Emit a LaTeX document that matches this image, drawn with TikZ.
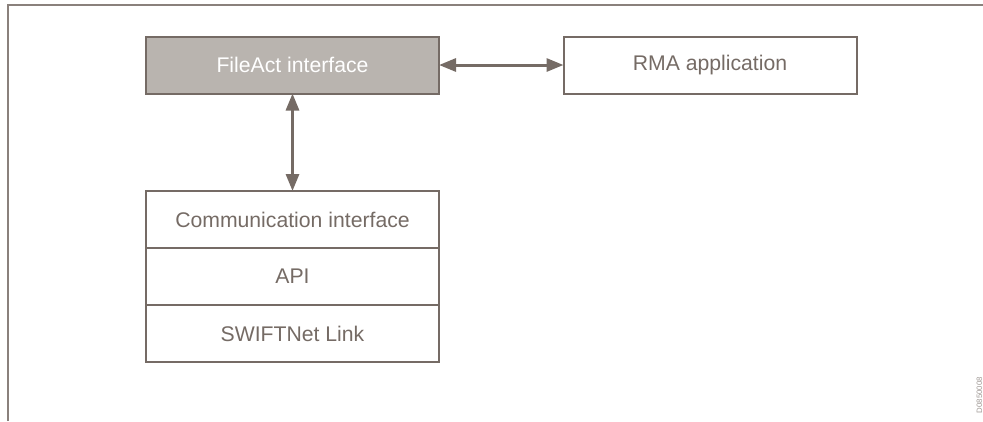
\documentclass[tikz,border=0pt]{standalone}
\usepackage{fontspec}
\setmainfont{Liberation Sans}
\usetikzlibrary{arrows.meta,positioning}
\definecolor{taupe}{RGB}{117,107,101}
\definecolor{taupefill}{RGB}{185,180,175}
\tikzset{
  box/.style={draw=taupe,line width=2pt,minimum width=293pt,minimum height=57pt,
    inner sep=0pt,outer sep=0pt,text=taupe,font=\fontsize{21.2}{25}\selectfont},
  link/.style={<->,>={Triangle[length=17pt,width=13pt]},taupe,line width=3pt}
}
\begin{document}
\begin{tikzpicture}[x=1pt,y=-1pt]
  \useasboundingbox (0,0) rectangle (983,421);
  \draw[taupe!85,line width=2pt] (8,421) -- (8,5) -- (983,5);
  \node[box,fill=taupefill,text=white] (fileact) at (292.5,65) {FileAct interface};
  \node[box] (rma) at (710,65) {RMA application};
  \node[box] (comm) at (292.5,219.5) {Communication interface};
  \node[box,below=0pt of comm] (api) {API};
  \node[box,below=0pt of api] (swift) {SWIFTNet Link};
  \draw[link] (fileact) -- (rma);
  \draw[link] (fileact) -- (comm);
  \node[rotate=90,text=taupe!70,font=\fontsize{7.8}{9}\selectfont] (code) at (979.5,395) {D0850008};
\end{tikzpicture}
\end{document}
